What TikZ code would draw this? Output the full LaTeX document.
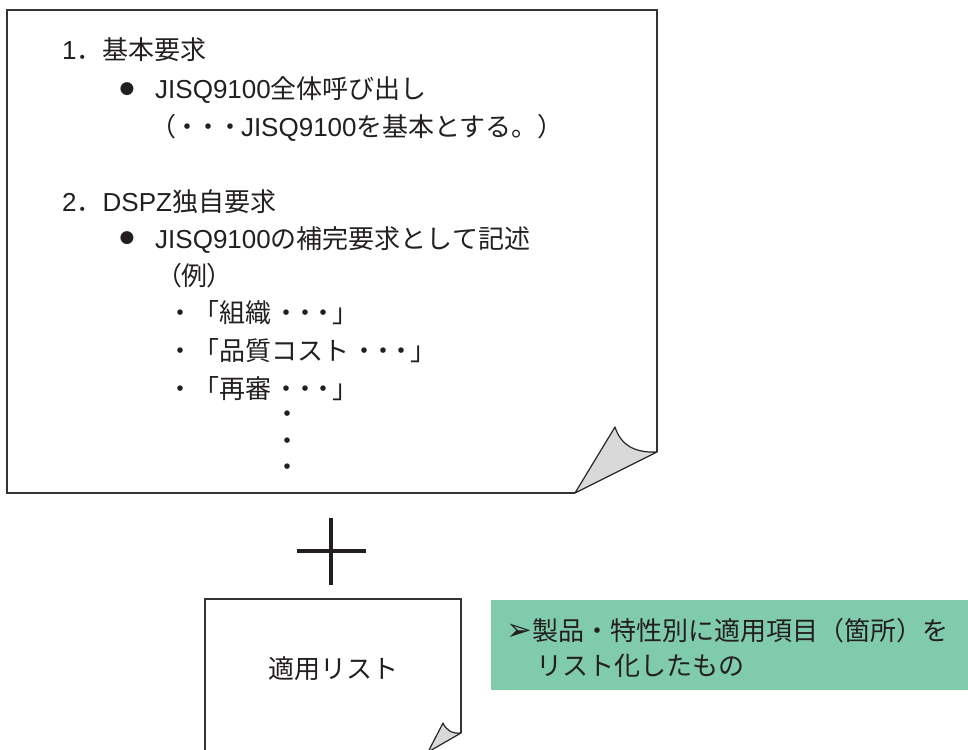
\documentclass[tikz,border=0pt]{standalone}
\usepackage{fontspec}
\setmainfont{Liberation Sans}
\newfontfamily\jp{Noto Sans CJK JP}
\newfontfamily\jpp[RawFeature=+palt]{Noto Sans CJK JP}
\newfontfamily\djv{DejaVu Sans}
\definecolor{ink}{HTML}{231F20}
\definecolor{boxgreen}{HTML}{80CBAB}
\definecolor{curlgray}{HTML}{D9D9D9}
\newcommand{\dtb}{\makebox[21.6pt]{\jp ・}}
\newcommand{\dd}{\makebox[18.2pt]{\jp ・}}
\tikzset{
  txt/.style={inner sep=0pt, anchor=base west, text=ink, font=\fontsize{26}{30}\selectfont},
  ctxt/.style={inner sep=0pt, anchor=base, text=ink, font=\fontsize{26}{30}\selectfont},
  bul/.style={inner sep=0pt, anchor=center, text=ink, font=\fontsize{17}{17}\selectfont\djv},
  sheet/.style={draw=black!80, line width=1.3pt},
  curl/.style={draw=black!85, fill=curlgray, line width=1.2pt, line join=round},
  plus/.style={draw=ink, line width=4pt}
}
\begin{document}
\begin{tikzpicture}[x=1pt,y=-1pt]
\useasboundingbox (0,0) rectangle (968,749);
\clip (0,0) rectangle (968,749);
% big sheet
\draw[sheet] (575,493) -- (7,493) -- (7,10) -- (657,10) -- (657,452);
\draw[curl] (575,493) -- (615,427) .. controls (621,446) and (636,453) .. (657,452) -- cycle;
% text in big sheet
\node[txt] (l1) at (62,60) {1{\jp ．基本要求}};
\node[bul] (b1) at (127,89) {●};
\node[txt] (l2) at (155,99) {JISQ9100{\jp 全体呼び出し}};
\node[txt] (l3) at (150,136) {{\jp （}\dtb\dtb\dtb JISQ9100{\jp を基本とする。）}};
\node[txt] (l4) at (62,211) {2{\jp ．}DSPZ{\jp 独自要求}};
\node[bul] (b2) at (127,238) {●};
\node[txt] (l5) at (155,248) {JISQ9100{\jp の補完要求として記述}};
\node[txt] (l6) at (168,285) {{\jpp （例）}};
\node[txt] (l7) at (167,322) {{\jp ・「組織}\hspace{6.5pt}\dd\dd\dd{\jp 」}};
\node[txt] (l8) at (167,360) {{\jp ・「品質コスト}\hspace{6.5pt}\dd\dd\dd{\jp 」}};
\node[txt] (l9) at (167,398) {{\jp ・「再審}\hspace{6.5pt}\dd\dd\dd{\jp 」}};
\node[ctxt] (v1) at (287,423) {\jp ・};
\node[ctxt] (v2) at (287,450) {\jp ・};
\node[ctxt] (v3) at (287,476) {\jp ・};
% plus sign
\coordinate (ph1) at (297,551);
\coordinate (ph2) at (366,551);
\coordinate (pv1) at (331,518);
\coordinate (pv2) at (331,585);
\draw[plus] (ph1) -- (ph2);
\draw[plus] (pv1) -- (pv2);
% small sheet
\draw[sheet] (205,760) -- (205,599) -- (461,599) -- (461,733);
\draw[curl] (428,752) -- (443,723) .. controls (446,730) and (452,734) .. (461,733) -- cycle;
\node[ctxt] (lst) at (333,678) {\jp 適用リスト};
% green note
\fill[boxgreen] (491,600) rectangle (968,690);
\node[txt] (g1) at (506,640) {{\djv\fontsize{31}{31}\selectfont ➢}{\jp 製品・特性別に適用項目（箇所）を}};
\node[txt] (g2) at (536,675) {\jp リスト化したもの};
\end{tikzpicture}
\end{document}
